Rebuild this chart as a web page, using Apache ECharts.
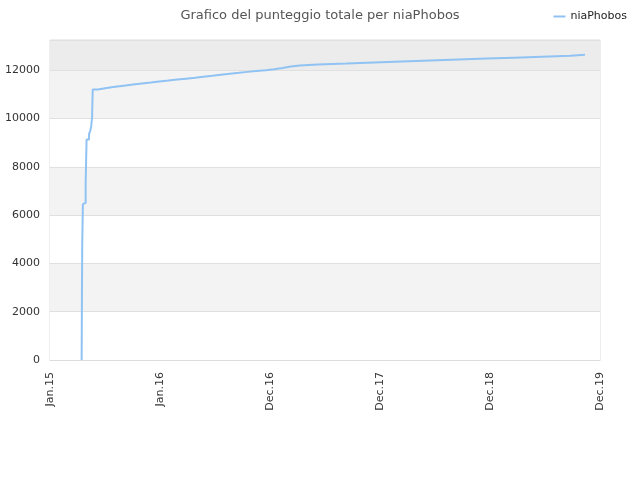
<!DOCTYPE html>
<html>
<head>
<meta charset="utf-8">
<script src="https://cdn.jsdelivr.net/npm/echarts@6/dist/echarts.min.js"></script>
<style>html,body{margin:0;padding:0;background:#fff}#c{width:640px;height:480px}</style>
</head>
<body>
<div id="c"></div>
<script>
var titleText = 'Grafico del punteggio totale per niaPhobos';
var seriesName = 'niaPhobos';
var dates = [
 '2015-04-24','2015-04-25','2015-04-26','2015-04-28','2015-05-02','2015-05-07','2015-05-10',
 '2015-05-18','2015-05-22','2015-05-25','2015-05-28','2015-05-30',
 '2015-06-16','2015-07-14','2015-08-11','2015-09-08','2015-10-08','2015-11-06','2015-12-05',
 '2016-01-01','2016-01-31','2016-02-29','2016-03-29','2016-04-27','2016-05-24','2016-06-22',
 '2016-07-20','2016-08-18','2016-09-17','2016-10-15','2016-11-12','2016-12-13',
 '2017-01-09','2017-02-06','2017-03-05','2017-04-03','2017-06-01','2017-09-01','2017-12-01',
 '2018-03-01','2018-06-01','2018-09-01','2018-12-01','2019-03-01','2019-06-01','2019-09-01','2019-10-18'
];
var scores = [
 0,2900,4840,6450,6510,7300,9130,
 9350,9490,9680,10050,11200,
 11260,11310,11360,11410,11450,11490,11530,
 11570,11610,11650,11690,11730,11770,11810,
 11850,11890,11930,11970,12000,12040,
 12095,12150,12195,12235,12275,12320,12360,
 12400,12440,12480,12520,12560,12600,12640,12640
];
var axisStart = '2015-01-11';
var tickDays = 358;
var tickCount = 5;
var monthNames = ['Jan','Feb','Mar','Apr','May','Jun','Jul','Aug','Sep','Oct','Nov','Dec'];

function toMs(s){var p=s.split('-');return Date.UTC(+p[0],+p[1]-1,+p[2]);}
var baseMs = toMs(axisStart);
var DAY = 86400000;
var data = dates.map(function(d,i){return [(toMs(d)-baseMs)/DAY, scores[i]];});

var chart = echarts.init(document.getElementById('c'));
chart.setOption({
  animation:false,
  textStyle:{fontFamily:'DejaVu Sans'},
  title:{text:titleText,left:'center',top:4,textStyle:{fontSize:13,fontWeight:'normal',color:'#555',fontFamily:'DejaVu Sans'}},
  legend:{right:8,top:6,icon:'rect',itemWidth:12,itemHeight:2,itemGap:6,
    textStyle:{fontSize:11,color:'#222',fontFamily:'DejaVu Sans'},data:[seriesName]},
  grid:{left:50,right:40,top:40,bottom:120,show:true,borderColor:'#dcdcdc',borderWidth:1,backgroundColor:'transparent'},
  xAxis:{type:'value',min:0,max:tickDays*tickCount,interval:tickDays,
    axisLine:{show:true,lineStyle:{color:'#dcdcdc'}},axisTick:{show:false},splitLine:{show:false},
    axisLabel:{rotate:90,margin:12,fontSize:11,color:'#333',
      formatter:function(v){var d=new Date(baseMs+v*DAY);return monthNames[d.getUTCMonth()]+'.'+String(d.getUTCFullYear()).slice(2);}}},
  yAxis:{type:'value',min:0,max:13250,interval:2000,
    axisLine:{show:false},axisTick:{show:false},
    axisLabel:{fontSize:11,color:'#333',margin:10,showMaxLabel:false,formatter:function(v){return String(v);}},
    splitLine:{show:true,lineStyle:{color:'#e0e0e0'}},
    splitArea:{show:true,areaStyle:{color:['#ffffff','#f3f3f3','#ffffff','#f3f3f3','#ffffff','#f3f3f3','#ececec']}}},
  series:[{name:seriesName,type:'line',step:'end',data:data,showSymbol:false,
    lineStyle:{color:'#90c3f4',width:2},itemStyle:{color:'#90c3f4'}}]
});
</script>
</body>
</html>
